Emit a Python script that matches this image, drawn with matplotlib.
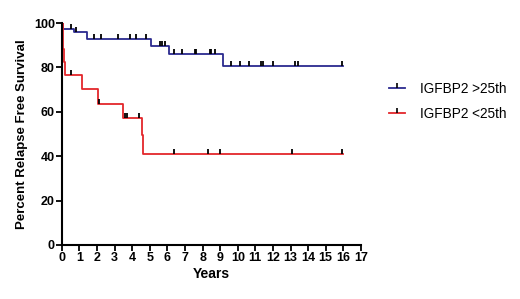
import numpy as np
import matplotlib
matplotlib.use("Agg")
import matplotlib.pyplot as plt
from matplotlib.lines import Line2D

plt.rcParams['font.family'] = ['Liberation Sans', 'DejaVu Sans']

# Kaplan-Meier steps (years, percent)
high_t = [0, 0.07, 0.7, 1.45, 5.05, 6.08, 9.15, 16.0]
high_s = [100, 97.5, 95.8, 92.9, 89.6, 86.2, 80.6, 80.6]
high_cens = [0.5, 0.8, 1.8, 2.2, 3.2, 3.9, 4.2, 4.8, 5.6, 5.7, 5.85, 6.35, 6.85,
             7.55, 7.65, 8.4, 8.5, 8.7, 9.6, 10.15, 10.65, 11.3, 11.45, 12.0,
             13.25, 13.4, 15.95]

low_t = [0, 0.04, 0.08, 0.12, 0.18, 1.17, 2.05, 3.5, 4.57, 4.63, 16.0]
low_s = [100, 94.1, 88.2, 82.4, 76.5, 70.1, 63.7, 57.1, 49.5, 41.0, 41.0]
low_cens = [0.5, 2.1, 3.6, 3.7, 4.4, 6.36, 8.3, 8.98, 13.1, 15.95]

labels = ["IGFBP2 >25th", "IGFBP2 <25th"]
blue = "#2b2a8f"
red = "#e3262b"


def level(t, s, x):
    idx = np.searchsorted(t, x, side="right") - 1
    return np.array(s)[idx]


fig = plt.figure(figsize=(5.2, 2.99), dpi=100)
ax = fig.add_axes([0.119, 0.181, 0.575, 0.742])

ax.step(high_t, high_s, where="post", color=blue, lw=1.3)
ax.step(low_t, low_s, where="post", color=red, lw=1.3)
ax.plot(high_cens, level(high_t, high_s, high_cens), ls="none", marker=2,
        ms=3.5, mew=1.3, color="black")
ax.plot(low_cens, level(low_t, low_s, low_cens), ls="none", marker=2,
        ms=3.5, mew=1.3, color="black")

ax.set_xlim(0, 17)
ax.set_ylim(0, 100)
ax.set_xticks(range(0, 18))
ax.set_yticks(range(0, 101, 20))
for sp in ["top", "right"]:
    ax.spines[sp].set_visible(False)
for sp in ["left", "bottom"]:
    ax.spines[sp].set_linewidth(1.5)
ax.tick_params(direction="out", length=4, width=1.3, labelsize=9, pad=1)
for lab in ax.get_xticklabels() + ax.get_yticklabels():
    lab.set_fontweight("bold")
ax.set_xlabel("Years", fontsize=10, fontweight="bold", labelpad=2)
ax.set_ylabel("Percent Relapse Free Survival", fontsize=9.5, fontweight="bold",
              labelpad=4)

handles = [Line2D([], [], color=blue, lw=1.3, marker=2, ms=3.5, mew=1.2, mec="black"),
           Line2D([], [], color=red, lw=1.3, marker=2, ms=3.5, mew=1.2, mec="black")]
fig.legend(handles, labels, loc="center left", bbox_to_anchor=(0.724, 0.66),
           frameon=False, fontsize=9.8, handlelength=1.2, handletextpad=1.1,
           labelspacing=0.8)

fig.savefig("out.png", dpi=100)
